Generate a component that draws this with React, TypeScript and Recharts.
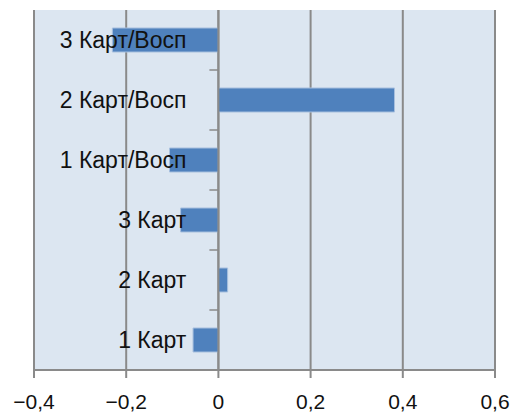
import { BarChart, Bar, XAxis, YAxis, CartesianGrid, ReferenceLine, LabelList } from 'recharts';

// Categories, top to bottom
const categories = ['3 Карт/Восп', '2 Карт/Восп', '1 Карт/Восп', '3 Карт', '2 Карт', '1 Карт'];
const values = [-0.23, 0.382, -0.106, -0.082, 0.02, -0.055];
const xTicks = [-0.4, -0.2, 0, 0.2, 0.4, 0.6];

const data = categories.map((name, i) => ({ name, value: values[i] }));

// layout
const W = 512;
const H = 412;
const margin = { top: 10, right: 17, left: 33, bottom: 0 };
const yAxisW = 1;
const plotLeft = margin.left + yAxisW;
const plotW = W - plotLeft - margin.right;
const zeroX = plotLeft + (plotW * (0 - xTicks[0])) / (xTicks[xTicks.length - 1] - xTicks[0]);

const GRID = '#8a8a8a';
const FONT = '"Liberation Sans", Arial, sans-serif';

const fmt = (v: number) => {
  if (v === 0) return '0';
  return (v < 0 ? '\u2212' : '') + Math.abs(v).toFixed(1).replace('.', ',');
};

// category labels sit left of the zero line, right-aligned, drawn over the bars
const renderCategoryLabel = (props: any) => (
  <text
    key={props.index}
    x={zeroX - 32}
    y={props.y + props.height / 2}
    dy="0.36em"
    textAnchor="end"
    fontSize={23}
    fontFamily={FONT}
    fill="#111"
  >
    {props.value}
  </text>
);

// zero axis line with small tick marks at band boundaries
const ZeroAxis = (props: any) => {
  const { x1, y1, y2 } = props;
  const n = categories.length;
  const step = (y2 - y1) / n;
  const ticks = [];
  for (let i = 0; i < n; i++) {
    const y = y1 + i * step;
    ticks.push(<line key={i} x1={x1 - 9} x2={x1} y1={y} y2={y} stroke={GRID} strokeWidth={1.5} />);
  }
  return (
    <g>
      <line x1={x1} x2={x1} y1={y1} y2={y2} stroke={GRID} strokeWidth={2} />
      {ticks}
    </g>
  );
};

export default function App() {
  return (
    <div style={{ position: 'absolute', left: 0, top: 0, width: W, height: H, background: '#fff' }}>
      <BarChart width={W} height={H} data={data} layout="vertical" margin={margin} barSize={24}>
        <CartesianGrid horizontal={false} vertical stroke={GRID} strokeWidth={2} fill="#dce6f1" />
        <XAxis
          type="number"
          domain={[-0.4, 0.6]}
          ticks={xTicks}
          tickFormatter={fmt}
          height={42}
          tickSize={8}
          tickMargin={16}
          stroke={GRID}
          strokeWidth={2}
          tick={{ fill: '#111', fontSize: 21, fontFamily: FONT }}
          interval={0}
        />
        <YAxis type="category" dataKey="name" width={yAxisW} axisLine={false} tickLine={false} tick={false} />
        <ReferenceLine x={0} shape={<ZeroAxis />} />
        <Bar dataKey="value" fill="#4f81bd" stroke="#a7bfde" strokeWidth={1} isAnimationActive={false}>
          <LabelList dataKey="name" content={renderCategoryLabel} />
        </Bar>
      </BarChart>
    </div>
  );
}
